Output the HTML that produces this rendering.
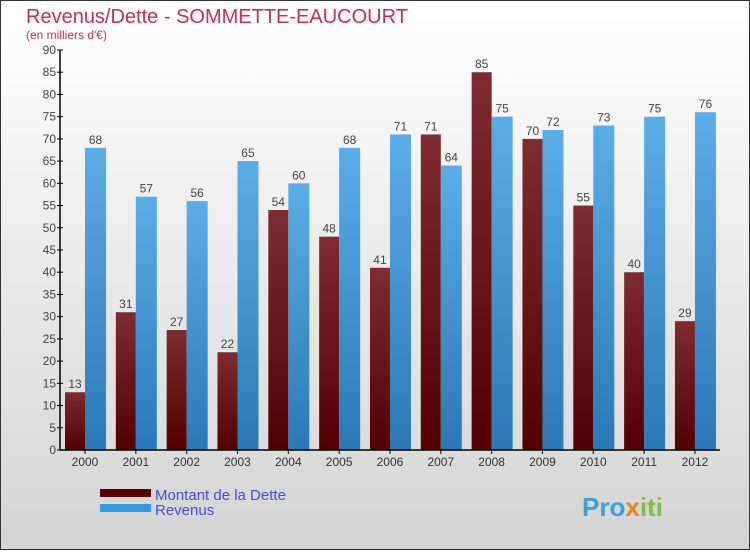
<!DOCTYPE html>
<html><head><meta charset="utf-8"><style>
body{margin:0;width:750px;height:550px;overflow:hidden;font-family:"Liberation Sans",sans-serif}
</style></head><body>
<svg id="chart" width="750" height="550" xmlns="http://www.w3.org/2000/svg">
<defs>
<linearGradient id="bg" x1="0" y1="0" x2="0" y2="1"><stop offset="0" stop-color="#ffffff"/><stop offset="1" stop-color="#d4d4d4"/></linearGradient>
<linearGradient id="gd" x1="0" y1="0" x2="0" y2="1"><stop offset="0" stop-color="#7e2c30"/><stop offset="1" stop-color="#520000"/></linearGradient>
<linearGradient id="gr" x1="0" y1="0" x2="0" y2="1"><stop offset="0" stop-color="#5aaee8"/><stop offset="1" stop-color="#2a78b8"/></linearGradient>
</defs>
<rect x="0.5" y="0.5" width="749" height="549" fill="url(#bg)" stroke="#333"/>
<text x="26" y="23" font-size="20" fill="#c0305a">Revenus/Dette - SOMMETTE-EAUCOURT</text>
<text x="26" y="39" font-size="12" fill="#c0305a">(en milliers d'€)</text>
<g id="grid"></g><g id="bars"></g><g id="axes"></g>
<rect x="100" y="489" width="51" height="8" fill="#5a0000"/>
<text x="155" y="500" font-size="15" fill="#4a4ae0">Montant de la Dette</text>
<rect x="100" y="504" width="51" height="8" fill="#3399e0"/>
<text x="155" y="515" font-size="15" fill="#4a4ae0">Revenus</text>
<text x="582" y="516" font-size="26" font-weight="bold" fill="#3aa0e0">Pro<tspan fill="#f08020">x</tspan><tspan fill="#80c040">iti</tspan></text>
</svg>
<script>
const categories=["2000","2001","2002","2003","2004","2005","2006","2007","2008","2009","2010","2011","2012"];
const dette=[13,31,27,22,54,48,41,71,85,70,55,40,29];
const revenus=[68,57,56,65,60,68,71,64,75,72,73,75,76];
const yTicks=[0,5,10,15,20,25,30,35,40,45,50,55,60,65,70,75,80,85,90];
const NS="http://www.w3.org/2000/svg";
const y0=450,yTop=50,yMax=90;
const y=v=>y0-(v/yMax)*(y0-yTop);
const x=i=>85+i*50.83;
function mk(t,a,p){const e=document.createElementNS(NS,t);for(const k in a)e.setAttribute(k,a[k]);p.appendChild(e);return e;}
const bars=document.getElementById('bars'),axes=document.getElementById('axes');
categories.forEach((c,i)=>{
 const cx=x(i);
 const d=mk('rect',{x:cx-20,y:y(dette[i]),width:20,height:y0-y(dette[i]),fill:'url(#gd)'},bars);
 
 
 const r=mk('rect',{x:cx,y:y(revenus[i]),width:21,height:y0-y(revenus[i]),fill:'url(#gr)'},bars);
 
 
 const t1=mk('text',{x:cx-10,y:y(dette[i])-4,'font-size':12,fill:'#444','text-anchor':'middle'},bars);t1.textContent=dette[i];
 
 
 const t2=mk('text',{x:cx+10.5,y:y(revenus[i])-4,'font-size':12,fill:'#444','text-anchor':'middle'},bars);t2.textContent=revenus[i];
 
 
 mk('line',{x1:cx,x2:cx,y1:y0,y2:y0+4,stroke:'#000'},axes);
 const lb=mk('text',{x:cx,y:466,'font-size':12,fill:'#333','text-anchor':'middle'},axes);lb.textContent=c;
 
 
});
yTicks.forEach(v=>{
 mk('line',{x1:57,x2:63,y1:y(v),y2:y(v),stroke:'#000'},axes);
 const t=mk('text',{x:56,y:y(v)+4,'font-size':12,fill:'#444','text-anchor':'end'},axes);t.textContent=v;
 
 
});
const ya=mk('line',{x1:60,x2:60,y1:yTop,y2:y0,stroke:'#000','stroke-width':1.5},axes);


const xa=mk('line',{x1:60,x2:720,y1:y0,y2:y0,stroke:'#000','stroke-width':1.5},axes);


</script>
</body></html>
